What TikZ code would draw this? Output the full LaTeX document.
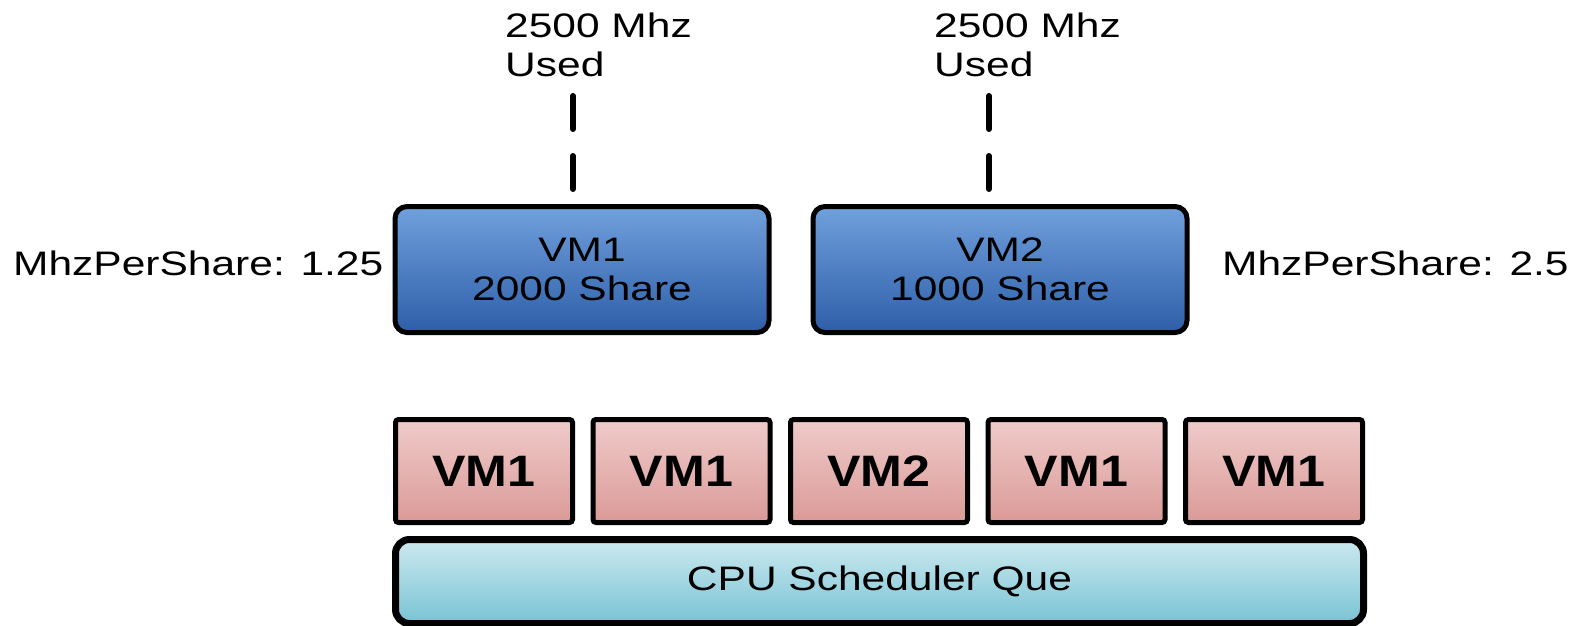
\documentclass[tikz,border=0pt]{standalone}
\usepackage{fontspec}
\setmainfont{Liberation Sans}[FakeStretch=1.25]
\newfontfamily\boldvm{Liberation Sans}[FakeStretch=1.14]
\definecolor{blueT}{HTML}{70A0DC}
\definecolor{blueB}{HTML}{2E5EA8}
\definecolor{pinkT}{HTML}{EFCBCA}
\definecolor{pinkB}{HTML}{DA9A97}
\definecolor{cyanT}{HTML}{CCE9EF}
\definecolor{cyanB}{HTML}{78C3D5}
\begin{document}
\begin{tikzpicture}[x=1pt,y=-1pt,
  regtext/.style={font=\fontsize{34}{39}\selectfont, inner sep=0pt},
  bigbox/.style={draw=black, line width=5pt, rounded corners=12pt,
    top color=blueT, bottom color=blueB, minimum width=374pt, minimum height=126pt,
    align=center, inner sep=0pt, font=\fontsize{34}{39}\selectfont},
  slotbox/.style={draw=black, line width=5pt, rounded corners=3pt,
    top color=pinkT, bottom color=pinkB, minimum width=177pt, minimum height=103pt,
    inner sep=0pt, font=\boldvm\bfseries\fontsize{44}{48}\selectfont},
  quebox/.style={draw=black, line width=7pt, rounded corners=14pt,
    top color=cyanT, bottom color=cyanB, minimum width=968pt, minimum height=84pt,
    inner sep=0pt, font=\fontsize{34}{39}\selectfont},
  dashcon/.style={draw=black, line width=6pt, line cap=round, dash pattern=on 33pt off 27pt}]
\useasboundingbox (0,0) rectangle (1575,625);
% big VM boxes
\node[bigbox] (vm1) at (582,269.5) {VM1\\2000 Share};
\node[bigbox] (vm2) at (1000,269.5) {VM2\\1000 Share};
% side labels
\node[regtext, anchor=base west] (mps1) at (13,275) {MhzPerShare: 1.25};
\node[regtext, anchor=base west] (mps2) at (1222,275) {MhzPerShare: 2.5};
% top labels
\node[regtext, anchor=base west, align=left] (used1) at (505,76) {2500 Mhz\\Used};
\node[regtext, anchor=base west, align=left] (used2) at (934,76) {2500 Mhz\\Used};
% dashed connectors
\coordinate (u1a) at (573,96);
\coordinate (u1b) at (573,189);
\coordinate (u2a) at (989,96);
\coordinate (u2b) at (989,189);
\draw[dashcon] (u1a) -- (u1b);
\draw[dashcon] (u2a) -- (u2b);
% scheduler slots
\node[slotbox] (s1) at (484,471) {VM1};
\node[slotbox] (s2) at (681.5,471) {VM1};
\node[slotbox] (s3) at (879,471) {VM2};
\node[slotbox] (s4) at (1076.5,471) {VM1};
\node[slotbox] (s5) at (1274,471) {VM1};
% queue
\node[quebox] (que) at (879.5,581.5) {CPU Scheduler Que};
\end{tikzpicture}
\end{document}
